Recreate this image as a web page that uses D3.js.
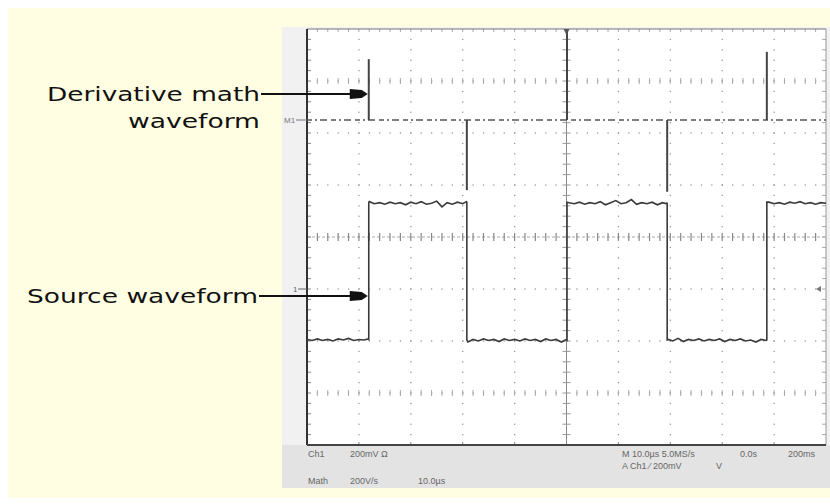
<!DOCTYPE html>
<html>
<head>
<meta charset="utf-8">
<script src="https://cdn.jsdelivr.net/npm/d3@7"></script>
<style>
  html, body { margin: 0; padding: 0; background: #ffffff; }
  svg { display: block; }
</style>
</head>
<body>
<svg id="chart" width="830" height="504"></svg>
<script>
// ---------- DATA (time in divisions 0..10, amplitude in divisions -4..4) ----------
const sourceWave = [
  [0.00,-1.97],[0.10,-1.99],[0.20,-1.96],[0.30,-1.99],[0.40,-1.97],[0.50,-2.00],[0.60,-1.96],
  [0.70,-1.98],[0.80,-1.95],[0.90,-1.99],[1.00,-1.97],[1.10,-1.98],[1.18,-1.96],
  [1.19,-1.97],[1.19,0.66],
  [1.20,0.68],[1.30,0.64],[1.40,0.66],[1.50,0.63],[1.60,0.67],[1.70,0.64],[1.80,0.66],[1.90,0.62],
  [2.00,0.67],[2.10,0.64],[2.20,0.68],[2.30,0.63],[2.40,0.65],[2.50,0.69],[2.60,0.58],[2.70,0.66],
  [2.80,0.63],[2.90,0.67],[3.00,0.64],[3.07,0.68],
  [3.08,0.67],[3.08,-1.98],
  [3.10,-2.02],[3.20,-1.97],[3.30,-2.00],[3.40,-1.96],[3.50,-1.99],[3.60,-1.97],[3.70,-2.01],
  [3.80,-1.96],[3.90,-1.99],[4.00,-1.97],[4.10,-2.00],[4.20,-1.96],[4.30,-1.99],[4.40,-1.97],
  [4.50,-2.01],[4.60,-1.96],[4.70,-1.99],[4.80,-1.97],[4.90,-2.02],[5.00,-1.97],
  [5.01,-1.98],[5.01,0.67],
  [5.05,0.66],[5.15,0.64],[5.25,0.67],[5.35,0.63],[5.45,0.66],[5.55,0.64],[5.65,0.68],[5.75,0.62],
  [5.85,0.66],[5.95,0.70],[6.05,0.64],[6.15,0.66],[6.25,0.72],[6.35,0.63],[6.45,0.66],[6.55,0.64],
  [6.65,0.67],[6.75,0.62],[6.85,0.66],[6.93,0.64],
  [6.94,0.66],[6.94,-1.98],
  [6.96,-1.97],[7.05,-2.00],[7.15,-1.95],[7.25,-2.01],[7.35,-1.97],[7.45,-1.99],[7.55,-1.96],
  [7.65,-2.00],[7.75,-1.97],[7.85,-1.99],[7.95,-1.96],[8.05,-2.01],[8.15,-1.97],[8.25,-1.99],
  [8.35,-1.96],[8.45,-2.00],[8.55,-1.98],[8.65,-2.02],[8.75,-1.97],[8.85,-1.99],
  [8.86,-1.98],[8.86,0.67],
  [8.90,0.67],[9.00,0.64],[9.10,0.66],[9.20,0.63],[9.30,0.67],[9.40,0.65],[9.50,0.68],[9.60,0.64],
  [9.70,0.66],[9.80,0.63],[9.90,0.66],[10.00,0.65]
];
const mathBaseline = 2.25;
const mathSpikeTimes = [1.19, 3.08, 5.01, 6.94, 8.86];
const mathSpikePeaks = [3.42, 0.90, 3.98, 0.87, 3.56];

const labels = [
  { lines: ["Derivative math", "waveform"], target: 0 },
  { lines: ["Source waveform"], target: 1 }
];
const statusLeft = [["Ch1", "200mV Ω", ""], ["Math", "200V/s", "10.0µs"]];
const statusRight = [["M 10.0µs 5.0MS/s", "0.0s", "200ms"], ["A  Ch1  ⁄  200mV", "V", ""]];

// ---------- LAYOUT ----------
const svg = d3.select("#chart");
const x = d3.scaleLinear().domain([0, 10]).range([307, 826]);
const y = d3.scaleLinear().domain([-4, 4]).range([445, 29]);

// background
svg.append("rect").attr("x", 8).attr("y", 8).attr("width", 822).attr("height", 490).attr("fill", "#fffee2");
// scope panel
svg.append("rect").attr("x", 282).attr("y", 27).attr("width", 548).attr("height", 461).attr("fill", "#f1f1f1");
svg.append("rect").attr("x", 282).attr("y", y(-4)).attr("width", 548).attr("height", 488 - y(-4)).attr("fill", "#e3e3e3");
svg.append("rect").attr("x", x(0)).attr("y", y(4)).attr("width", x(10) - x(0)).attr("height", y(-4) - y(4)).attr("fill", "#ffffff");

const g = svg.append("g");
const dotColor = "#9a9a9a";
const minor = d3.range(0, 10.001, 0.2);
const minorY = d3.range(-4, 4.001, 0.2);

// vertical grid dotted lines
d3.range(1, 10).filter(i => i !== 5).forEach(i => {
  g.selectAll(null).data(minorY.slice(1, -1)).enter().append("rect")
    .attr("x", x(i) - 0.6).attr("y", d => y(d) - 0.6).attr("width", 1.3).attr("height", 1.3).attr("fill", dotColor);
});
// horizontal grid dotted lines
d3.range(-3, 4).filter(j => j !== 0).forEach(j => {
  g.selectAll(null).data(minor.slice(1, -1)).enter().append("rect")
    .attr("x", d => x(d) - 0.6).attr("y", y(j) - 0.6).attr("width", 1.3).attr("height", 1.3).attr("fill", dotColor);
});
// rows at +-3 div with small vertical ticks
[3, -3].forEach(j => {
  g.selectAll(null).data(minor.slice(1, -1)).enter().append("line")
    .attr("x1", d => x(d)).attr("x2", d => x(d)).attr("y1", y(j) - 3).attr("y2", y(j) + 3)
    .attr("stroke", "#aaa").attr("stroke-width", 1);
});
// center axes
g.append("line").attr("x1", x(0)).attr("x2", x(10)).attr("y1", y(0)).attr("y2", y(0))
  .attr("stroke", "#a8a8a8").attr("stroke-width", 1.2).attr("stroke-dasharray", "3,2");
g.append("line").attr("x1", x(5)).attr("x2", x(5)).attr("y1", y(4)).attr("y2", y(-4)).attr("stroke", "#8a8a8a").attr("stroke-width", 1);
g.selectAll(null).data(minor.slice(1, -1)).enter().append("line")
  .attr("x1", d => x(d)).attr("x2", d => x(d)).attr("y1", y(0) - 4).attr("y2", y(0) + 4)
  .attr("stroke", "#888").attr("stroke-width", 1.2);
g.selectAll(null).data(minorY.slice(1, -1)).enter().append("line")
  .attr("x1", x(5) - 4).attr("x2", x(5) + 4).attr("y1", d => y(d)).attr("y2", d => y(d))
  .attr("stroke", "#999").attr("stroke-width", 1);
// border ticks
g.selectAll(null).data(minorY.slice(1, -1)).enter().append("line")
  .attr("x1", x(0)).attr("x2", x(0) + 4).attr("y1", d => y(d)).attr("y2", d => y(d)).attr("stroke", "#888");
g.selectAll(null).data(minorY.slice(1, -1)).enter().append("line")
  .attr("x1", x(10) - 4).attr("x2", x(10)).attr("y1", d => y(d)).attr("y2", d => y(d)).attr("stroke", "#aaa");
g.selectAll(null).data(minor.slice(1, -1)).enter().append("line")
  .attr("x1", d => x(d)).attr("x2", d => x(d)).attr("y1", y(4)).attr("y2", y(4) + 3).attr("stroke", "#aaa");
g.selectAll(null).data(d3.range(1, 10)).enter().append("line")
  .attr("x1", d => x(d)).attr("x2", d => x(d)).attr("y1", y(-4) - 3).attr("y2", y(-4)).attr("stroke", "#888");

// border
svg.append("line").attr("x1", x(0)).attr("x2", x(10)).attr("y1", y(4)).attr("y2", y(4)).attr("stroke", "#777").attr("stroke-width", 1);
svg.append("line").attr("x1", x(10)).attr("x2", x(10)).attr("y1", y(4)).attr("y2", y(-4)).attr("stroke", "#999").attr("stroke-width", 1);
svg.append("line").attr("x1", x(0)).attr("x2", x(0)).attr("y1", y(4)).attr("y2", y(-4)).attr("stroke", "#333").attr("stroke-width", 2);
svg.append("line").attr("x1", x(0)).attr("x2", x(10)).attr("y1", y(-4)).attr("y2", y(-4)).attr("stroke", "#444").attr("stroke-width", 2);

// ---------- WAVEFORMS ----------
const line = d3.line().x(d => x(d[0])).y(d => y(d[1]));
svg.append("path").datum(sourceWave).attr("d", line)
  .attr("fill", "none").attr("stroke", "#3a3a3a").attr("stroke-width", 1.6);

// math baseline (noisy, appears broken)
svg.append("path").datum([[0, mathBaseline], [10, mathBaseline]]).attr("d", line)
  .attr("fill", "none").attr("stroke", "#555").attr("stroke-width", 1.4)
  .attr("stroke-dasharray", "5,3,2,3,7,4");
// spikes
svg.selectAll(".spike").data(mathSpikeTimes.map((t, i) => [t, mathSpikePeaks[i]])).enter().append("line")
  .attr("class", "spike")
  .attr("x1", d => x(d[0])).attr("x2", d => x(d[0]))
  .attr("y1", y(mathBaseline)).attr("y2", d => y(d[1]))
  .attr("stroke", "#444").attr("stroke-width", 2);

// ---------- SCOPE MARKERS ----------
svg.append("text").attr("x", 284).attr("y", y(mathBaseline) + 3).text("M1")
  .attr("font-family", "Liberation Sans, sans-serif").attr("font-size", 8).attr("fill", "#777");
svg.append("line").attr("x1", 296).attr("x2", x(0)).attr("y1", y(mathBaseline)).attr("y2", y(mathBaseline)).attr("stroke", "#777");
svg.append("text").attr("x", 293).attr("y", y(-1) + 3).text("1")
  .attr("font-family", "Liberation Sans, sans-serif").attr("font-size", 8).attr("fill", "#666");
svg.append("line").attr("x1", 298).attr("x2", x(0)).attr("y1", y(-1)).attr("y2", y(-1)).attr("stroke", "#666");
svg.append("path").attr("d", `M${x(5) - 3},${y(4)} L${x(5) + 3},${y(4)} L${x(5)},${y(4) + 6} Z`).attr("fill", "#555");
svg.append("path").attr("d", `M${x(10) - 10},${y(-1)} L${x(10) - 5},${y(-1) - 3} L${x(10) - 5},${y(-1) + 3} Z`).attr("fill", "#777");

// ---------- LABELS ----------
const font = "DejaVu Sans, sans-serif";
function label(textLines, lineY, x0s, x1, leaderY, tipT) {
  textLines.forEach((t, i) => {
    svg.append("text").attr("x", x0s[i]).attr("y", lineY[i]).text(t)
      .attr("font-family", font).attr("font-size", 20).attr("fill", "#111")
      .attr("textLength", x1 - x0s[i]).attr("lengthAdjust", "spacingAndGlyphs");
  });
  const tip = x(tipT) - 1;
  svg.append("line").attr("x1", x1 + 1).attr("x2", tip - 14).attr("y1", leaderY).attr("y2", leaderY)
    .attr("stroke", "#111").attr("stroke-width", 2);
  svg.append("path")
    .attr("d", `M${tip - 18},${leaderY - 5} L${tip - 6},${leaderY - 4} L${tip},${leaderY} L${tip - 6},${leaderY + 4} L${tip - 18},${leaderY + 5} Z`)
    .attr("fill", "#111");
}
label(labels[0].lines, [101, 128], [47, 128], 260, 94, mathSpikeTimes[0]);
label(labels[1].lines, [303], [27], 258, 296, mathSpikeTimes[0]);

// ---------- STATUS BAR ----------
const sFont = "Liberation Sans, sans-serif";
const leftXs = [308, 350, 418];
statusLeft.forEach((row, r) => {
  row.forEach((t, c) => {
    if (!t) return;
    svg.append("text").attr("x", leftXs[c]).attr("y", r === 0 ? 457 : 484).text(t)
      .attr("font-family", sFont).attr("font-size", 9).attr("fill", "#666");
  });
});
const rightXs = [[622, 740, 788], [622, 716, 0]];
statusRight.forEach((row, r) => {
  row.forEach((t, c) => {
    if (!t) return;
    svg.append("text").attr("x", rightXs[r][c]).attr("y", r === 0 ? 457 : 469).text(t)
      .attr("font-family", sFont).attr("font-size", 9).attr("fill", "#666");
  });
});
</script>
</body>
</html>
